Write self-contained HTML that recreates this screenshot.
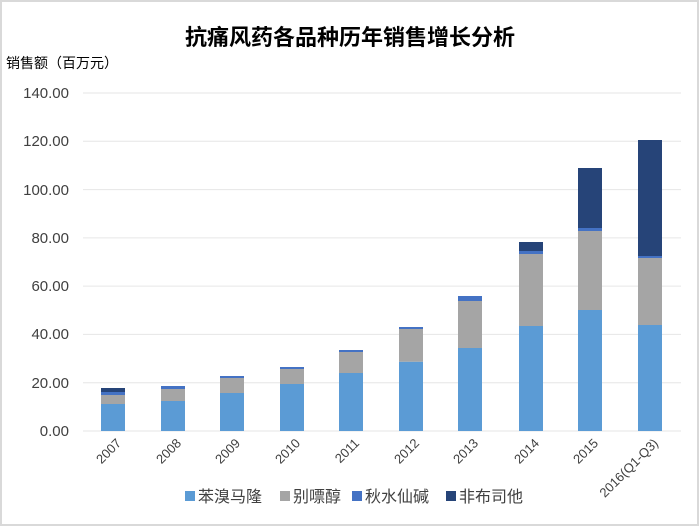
<!DOCTYPE html>
<html><head><meta charset="utf-8"><style>
body{margin:0;background:#fff;}
svg{display:block;font-family:"Liberation Sans","Noto Sans CJK SC",sans-serif;}
</style></head><body>
<svg width="700" height="527" viewBox="0 0 700 527">
<rect x="1" y="1" width="697" height="524" fill="#fff" stroke="#d9d9d9" stroke-width="2"/>
<text x="350" y="45" text-anchor="middle" font-size="22" font-weight="bold" fill="#000">抗痛风药各品种历年销售增长分析</text>
<text x="6" y="68" font-size="14" fill="#000">销售额（百万元）</text>
<g stroke="#e6e6e6" stroke-width="1">
<line x1="83" x2="681" y1="93" y2="93"/><line x1="83" x2="681" y1="141.3" y2="141.3"/>
<line x1="83" x2="681" y1="189.6" y2="189.6"/><line x1="83" x2="681" y1="237.9" y2="237.9"/>
<line x1="83" x2="681" y1="286.1" y2="286.1"/><line x1="83" x2="681" y1="334.4" y2="334.4"/>
<line x1="83" x2="681" y1="382.7" y2="382.7"/><line x1="83" x2="681" y1="431" y2="431"/>
</g>
<g font-size="15" fill="#404040" text-anchor="end">
<text x="69" y="98">140.00</text><text x="69" y="146">120.00</text><text x="69" y="195">100.00</text>
<text x="69" y="243">80.00</text><text x="69" y="291">60.00</text><text x="69" y="339">40.00</text>
<text x="69" y="388">20.00</text><text x="69" y="436">0.00</text>
</g>
<g id="bars"></g>
<g font-size="13" fill="#404040" text-anchor="end">
<text transform="translate(122,444) rotate(-45)">2007</text>
<text transform="translate(182,444) rotate(-45)">2008</text>
<text transform="translate(241,444) rotate(-45)">2009</text>
<text transform="translate(301,444) rotate(-45)">2010</text>
<text transform="translate(360,444) rotate(-45)">2011</text>
<text transform="translate(420,444) rotate(-45)">2012</text>
<text transform="translate(479,444) rotate(-45)">2013</text>
<text transform="translate(540,444) rotate(-45)">2014</text>
<text transform="translate(599,444) rotate(-45)">2015</text>
<text transform="translate(659,444) rotate(-45)">2016(Q1-Q3)</text>
</g>
<g font-size="16" fill="#404040">
<rect x="185" y="491" width="10" height="10" fill="#5B9BD5"/><text x="198" y="502">苯溴马隆</text>
<rect x="280" y="491" width="10" height="10" fill="#A5A5A5"/><text x="293" y="502">别嘌醇</text>
<rect x="352" y="491" width="10" height="10" fill="#4472C4"/><text x="365" y="502">秋水仙碱</text>
<rect x="446" y="491" width="10" height="10" fill="#264478"/><text x="459" y="502">非布司他</text>
</g>
</svg>
<script>
var d=[[113,404,395,392,388],[173,401,389,386,386],[232,393,378,376,376],[292,384,369,367,367],[351,373,352,350,350],[411,361.7,329,327,327],[470,348,301,296,296],[531,326,254,251,242],[590,310,231,228,168],[650,325,258,256,140]];
var c=["#5B9BD5","#A5A5A5","#4472C4","#264478"],g=document.getElementById("bars"),s="";
d.forEach(function(b){var prev=431;for(var i=0;i<4;i++){var t=b[i+1];if(prev-t>0)s+='<rect x="'+(b[0]-12)+'" y="'+t+'" width="24" height="'+(prev-t)+'" fill="'+c[i]+'"/>';prev=t;}});
g.innerHTML=s;
</script>
</body></html>
